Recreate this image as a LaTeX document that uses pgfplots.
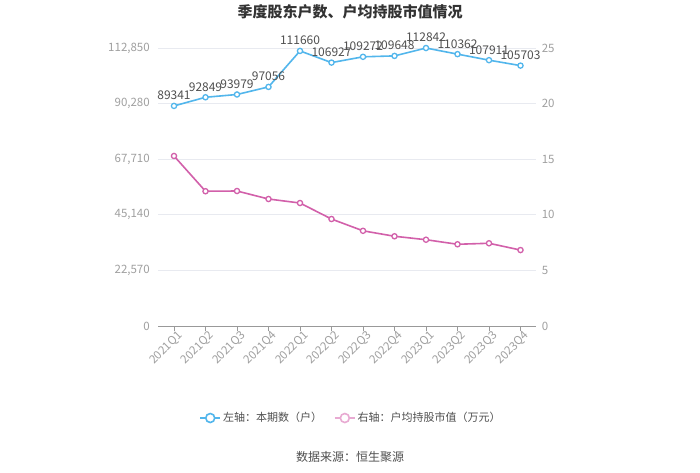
\documentclass[border=0pt]{standalone}
\usepackage{fontspec}
\setmainfont{Noto Sans CJK SC}
\usepackage{pgfplots}
\pgfplotsset{compat=1.18}

\definecolor{blueline}{RGB}{82,182,236}
\definecolor{pinkline}{RGB}{210,96,170}
\definecolor{pinklegend}{RGB}{232,170,210}
\definecolor{ticktext}{RGB}{160,160,160}
\definecolor{gridcol}{RGB}{232,234,240}
\definecolor{titletext}{RGB}{51,51,51}
\definecolor{labeltext}{RGB}{80,80,80}

\pgfplotsset{
  quarter axis/.style={
      scale only axis,
      width=378bp,
      height=278bp,
      xmin=-0.5,
      xmax=11.5,
      ymin=0,
      clip=false,
      scaled y ticks=false,
      /pgf/number format/assume math mode=true,
      tick label style={font=\fontsize{11.5bp}{13bp}\selectfont, text=ticktext},
    }
}

\begin{document}
\begin{tikzpicture}
  \path[use as bounding box, fill=white] (0,0) rectangle (700bp,-473bp);

  % title
  \node[font=\fontsize{15bp}{18bp}\selectfont\bfseries, text=titletext]
    at (350bp,-12bp) {季度股东户数、户均持股市值情况};

  % ------------------------------------------------------------------
  % left axis: number of shareholders
  % ------------------------------------------------------------------
  \begin{axis}[
      quarter axis,
      at={(158.25bp,-326bp)},
      anchor=south west,
      ymax=112850,
      ytick={0,22570,45140,67710,90280,112850},
      yticklabels={0,{22,570},{45,140},{67,710},{90,280},{112,850}},
      ymajorgrids,
      major grid style={draw=gridcol, line width=0.8bp},
      axis y line*=left,
      axis x line*=bottom,
      y axis line style={draw=none},
      x axis line style={draw=gray!80, line width=0.9bp},
      ytick style={draw=none},
      xtick={0,1,2,3,4,5,6,7,8,9,10,11},
      xticklabels={2021Q1,2021Q2,2021Q3,2021Q4,2022Q1,2022Q2,2022Q3,2022Q4,2023Q1,2023Q2,2023Q3,2023Q4},
      xtick style={draw=gray!80, line width=0.9bp},
      tick align=outside,
      major tick length=5bp,
      xticklabel style={rotate=45, anchor=north east, xshift=6bp, yshift=2bp},
      legend columns=2,
      legend style={
          draw=none,
          fill=none,
          at={(0.51,-0.331)},
          anchor=center,
          font=\fontsize{11bp}{13bp}\selectfont,
          text=labeltext,
          /tikz/every even column/.append style={column sep=10bp},
        },
    ]

    \addplot[
      blueline,
      line width=1.6bp,
      mark=*,
      mark size=2.6bp,
      mark options={fill=white, line width=1.3bp},
      nodes near coords,
      point meta=y,
      nodes near coords style={
          font=\fontsize{12bp}{14bp}\selectfont,
          text=labeltext,
          anchor=south,
          yshift=2bp,
          /pgf/number format/.cd, fixed, precision=0, 1000 sep={}, assume math mode=true,
        },
      forget plot,
    ]
    coordinates {
        (0,89341)
        (1,92849)
        (2,93979)
        (3,97056)
        (4,111660)
        (5,106927)
        (6,109272)
        (7,109648)
        (8,112842)
        (9,110362)
        (10,107911)
        (11,105703)
      };

    \addlegendimage{
      legend image code/.code={
          \draw[blueline, line width=1.6bp] (0bp,0bp) -- (20bp,0bp);
          \draw[blueline, fill=white, line width=1.6bp] (10bp,0bp) circle[radius=4.5bp];
        }
    }
    \addlegendentry{左轴：本期数（户）}

    \addlegendimage{
      legend image code/.code={
          \draw[pinklegend, line width=1.6bp] (0bp,0bp) -- (20bp,0bp);
          \draw[pinklegend, fill=white, line width=1.6bp] (10bp,0bp) circle[radius=4.5bp];
        }
    }
    \addlegendentry{右轴：户均持股市值（万元）}
  \end{axis}

  % ------------------------------------------------------------------
  % right axis: average holding value per shareholder
  % ------------------------------------------------------------------
  \begin{axis}[
      quarter axis,
      at={(158.25bp,-326bp)},
      anchor=south west,
      ymax=25,
      ytick={0,5,10,15,20,25},
      axis y line*=right,
      axis x line=none,
      y axis line style={draw=none},
      ytick style={draw=none},
      yticklabel style={xshift=2bp},
    ]

    \addplot[
      pinkline,
      line width=1.6bp,
      mark=*,
      mark size=2.6bp,
      mark options={fill=white, line width=1.3bp},
    ]
    coordinates {
        (0,15.29)
        (1,12.12)
        (2,12.14)
        (3,11.42)
        (4,11.06)
        (5,9.62)
        (6,8.56)
        (7,8.07)
        (8,7.76)
        (9,7.35)
        (10,7.44)
        (11,6.83)
      };
  \end{axis}

  % source note
  \node[font=\fontsize{12bp}{14bp}\selectfont, text=labeltext]
    at (350bp,-457bp) {数据来源：恒生聚源};
\end{tikzpicture}
\end{document}
